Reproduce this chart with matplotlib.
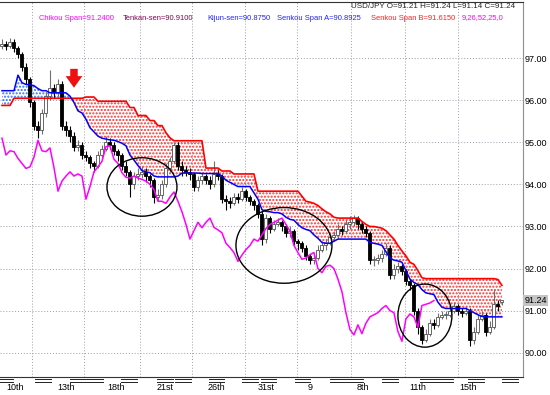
import numpy as np
import matplotlib
matplotlib.use('Agg')
import matplotlib.pyplot as plt
from matplotlib.patches import Ellipse

plt.rcParams['font.family'] = ['Liberation Sans', 'DejaVu Sans']
plt.rcParams['hatch.linewidth'] = 1.0

# USD/JPY candles (one per bar)
opens = [97.30, 97.35, 97.30, 97.40, 97.25, 97.10, 96.80, 96.50, 95.95, 95.40,
         95.30, 95.70, 96.10, 96.30, 96.20, 96.40, 95.40, 95.30, 95.15, 94.90,
         94.95, 94.70, 94.65, 94.50, 94.45, 94.70, 94.85, 95.00, 94.95, 94.80,
         94.70, 94.45, 94.30, 94.00, 94.20, 94.25, 94.30, 94.20, 94.10, 93.70,
         93.75, 94.00, 94.40, 94.55, 94.95, 94.45, 94.35, 94.30, 94.25, 93.95,
         94.10, 94.20, 94.10, 94.00, 94.25, 94.20, 93.65, 93.60, 93.55, 93.70,
         93.65, 93.85, 93.70, 93.60, 93.50, 93.30, 92.70, 93.20, 92.95, 93.05,
         93.10, 93.00, 92.85, 92.90, 92.65, 92.60, 92.50, 92.30, 92.20, 92.25,
         92.45, 92.55, 92.60, 92.75, 92.80, 92.95, 92.90, 93.05, 93.10, 93.20,
         93.05, 92.95, 92.85, 92.20, 92.20, 92.25, 92.35, 92.50, 91.85, 92.00,
         92.05, 91.95, 91.70, 91.60, 91.00, 90.60, 90.30, 90.45, 90.70, 90.65,
         90.85, 90.90, 90.90, 91.00, 91.10, 91.00, 90.95, 91.00, 90.30, 90.50,
         90.80, 90.90, 90.50, 90.60, 91.15, 91.21]
highs = [97.45, 97.42, 97.48, 97.45, 97.30, 97.15, 96.90, 96.55, 96.00, 95.50,
         95.80, 96.20, 96.72, 96.40, 96.50, 96.45, 95.50, 95.40, 95.25, 95.05,
         95.00, 94.80, 94.70, 94.55, 94.80, 94.95, 95.15, 95.10, 95.00, 94.85,
         94.75, 94.55, 94.35, 94.30, 94.40, 94.45, 94.40, 94.25, 94.15, 93.90,
         94.10, 94.50, 94.65, 95.00, 95.00, 94.55, 94.45, 94.40, 94.30, 94.20,
         94.30, 94.25, 94.20, 94.55, 94.35, 94.25, 93.75, 93.70, 93.80, 93.80,
         93.95, 93.90, 93.75, 93.65, 93.55, 93.40, 93.30, 93.25, 93.15, 93.20,
         93.15, 93.05, 93.00, 92.95, 92.70, 92.65, 92.55, 92.35, 92.35, 92.55,
         92.65, 92.70, 92.85, 92.90, 93.05, 93.00, 93.15, 93.25, 93.28, 93.25,
         93.10, 93.00, 92.90, 92.30, 92.35, 92.45, 92.60, 92.55, 92.10, 92.15,
         92.10, 92.00, 91.75, 91.65, 91.05, 90.65, 90.55, 90.80, 90.80, 90.95,
         91.00, 91.00, 91.10, 91.20, 91.15, 91.05, 91.10, 91.05, 90.60, 90.90,
         91.00, 90.95, 90.75, 91.50, 91.25, 91.24]
lows = [97.22, 97.20, 97.25, 97.15, 97.00, 96.70, 96.40, 95.85, 95.30, 95.10,
        95.20, 95.60, 96.00, 96.05, 96.10, 95.30, 95.15, 95.00, 94.80, 94.80,
        94.60, 94.55, 94.40, 94.30, 94.40, 94.60, 94.80, 94.85, 94.70, 94.55,
        94.35, 94.20, 93.70, 93.90, 94.10, 94.15, 94.05, 93.95, 93.55, 93.60,
        93.65, 93.95, 94.30, 94.50, 94.35, 94.20, 94.20, 94.10, 93.85, 93.85,
        94.00, 94.00, 93.90, 93.95, 94.10, 93.55, 93.40, 93.45, 93.50, 93.55,
        93.60, 93.60, 93.50, 93.40, 93.20, 92.55, 92.60, 92.85, 92.90, 93.00,
        92.90, 92.75, 92.75, 92.55, 92.45, 92.40, 92.20, 92.10, 92.10, 92.20,
        92.40, 92.45, 92.55, 92.65, 92.70, 92.80, 92.85, 92.95, 93.00, 92.95,
        92.85, 92.75, 92.10, 92.05, 92.10, 92.15, 92.30, 91.75, 91.75, 91.90,
        91.85, 91.60, 91.50, 90.90, 90.45, 90.20, 90.25, 90.40, 90.55, 90.60,
        90.80, 90.80, 90.85, 90.95, 90.90, 90.85, 90.90, 90.15, 90.20, 90.45,
        90.75, 90.40, 90.45, 90.55, 91.00, 91.14]
closes = [97.35, 97.30, 97.40, 97.25, 97.10, 96.80, 96.50, 95.95, 95.40, 95.30,
          95.70, 96.10, 96.30, 96.20, 96.40, 95.40, 95.30, 95.15, 94.90, 94.95,
          94.70, 94.65, 94.50, 94.45, 94.70, 94.85, 95.00, 94.95, 94.80, 94.70,
          94.45, 94.30, 94.00, 94.20, 94.25, 94.30, 94.20, 94.10, 93.70, 93.75,
          94.00, 94.40, 94.55, 94.95, 94.45, 94.35, 94.30, 94.25, 93.95, 94.10,
          94.20, 94.10, 94.00, 94.25, 94.20, 93.65, 93.60, 93.55, 93.70, 93.65,
          93.85, 93.70, 93.60, 93.50, 93.30, 92.70, 93.20, 92.95, 93.05, 93.10,
          93.00, 92.85, 92.90, 92.65, 92.60, 92.50, 92.30, 92.20, 92.25, 92.45,
          92.55, 92.60, 92.75, 92.80, 92.95, 92.90, 93.05, 93.10, 93.20, 93.05,
          92.95, 92.85, 92.20, 92.20, 92.25, 92.35, 92.50, 91.85, 92.00, 92.05,
          91.95, 91.70, 91.60, 91.00, 90.60, 90.30, 90.45, 90.70, 90.65, 90.85,
          90.90, 90.90, 91.00, 91.10, 91.00, 90.95, 91.00, 90.30, 90.50, 90.80,
          90.90, 90.50, 90.60, 91.15, 91.10, 91.24]

senkou_a = [96.23, 96.23, 96.23, 96.23, 96.60, 96.42, 96.38, 96.37, 96.35, 96.28,
            96.23, 96.23, 96.18, 96.18, 96.18, 96.18, 96.18, 96.10, 95.95, 95.75,
            95.70, 95.55, 95.35, 95.25, 95.15, 95.10, 95.08, 95.06, 95.05, 95.02,
            94.98, 94.92, 94.70, 94.58, 94.45, 94.33, 94.30, 94.28, 94.20, 94.18,
            94.18, 94.18, 94.18, 94.18, 94.20, 94.27, 94.27, 94.27, 94.27, 94.27,
            94.26, 94.26, 94.26, 94.26, 94.26, 94.20, 94.10, 94.05, 94.00, 93.95,
            93.95, 93.95, 93.95, 93.80, 93.65, 93.40, 93.36, 93.35, 93.33, 93.33,
            93.30, 93.22, 93.17, 93.15, 93.05, 92.97, 92.93, 92.90, 92.80, 92.72,
            92.62, 92.60, 92.60, 92.65, 92.70, 92.70, 92.70, 92.70, 92.70, 92.70,
            92.70, 92.70, 92.62, 92.60, 92.58, 92.55, 92.40, 92.25, 92.20, 92.18,
            92.15, 91.95, 91.75, 91.67, 91.62, 91.50, 91.42, 91.40, 91.38, 91.20,
            91.08, 91.05, 91.05, 91.05, 91.05, 91.05, 91.05, 91.00, 90.95, 90.90,
            90.86, 90.85, 90.85, 90.85, 90.85, 90.85]
senkou_b = [95.88, 95.88, 95.88, 96.05, 96.05, 96.05, 96.05, 96.05, 96.05, 96.05,
            96.05, 96.05, 96.05, 96.05, 96.05, 96.05, 96.05, 96.05, 96.05, 96.05,
            96.05, 96.08, 96.08, 96.08, 95.98, 95.98, 95.98, 95.98, 95.98, 95.98,
            95.98, 95.98, 95.83, 95.83, 95.64, 95.64, 95.64, 95.52, 95.52, 95.40,
            95.40, 95.23, 95.11, 95.04, 95.04, 95.04, 95.04, 95.04, 95.04, 95.04,
            95.04, 94.39, 94.39, 94.39, 94.39, 94.32, 94.32, 94.32, 94.25, 94.25,
            94.25, 94.25, 94.25, 94.25, 93.84, 93.84, 93.84, 93.84, 93.84, 93.84,
            93.84, 93.84, 93.84, 93.84, 93.84, 93.72, 93.60, 93.58, 93.55, 93.50,
            93.42, 93.35, 93.30, 93.22, 93.20, 93.20, 93.20, 93.20, 93.20, 93.20,
            93.12, 93.05, 93.00, 93.00, 92.98, 92.96, 92.90, 92.80, 92.70, 92.55,
            92.42, 92.30, 92.15, 92.10, 91.95, 91.78, 91.76, 91.76, 91.76, 91.76,
            91.76, 91.76, 91.76, 91.76, 91.76, 91.76, 91.76, 91.76, 91.76, 91.76,
            91.76, 91.76, 91.76, 91.76, 91.74, 91.60]
chikou = [95.10, 94.70, 94.80, 94.78, 94.62, 94.50, 94.38, 94.42, 94.65, 95.05,
          94.80, 94.78, 94.87, 94.40, 93.84, 94.08, 94.20, 94.30, 94.20, 94.25,
          94.20, 93.65, 93.95, 94.30, 94.42, 94.55, 94.90, 94.92, 94.60, 94.50,
          94.28, 94.17, 94.15, 94.20, 94.15, 94.12, 94.08, 94.00, 93.88, 93.60,
          93.60, 93.55, 93.70, 93.82, 93.60, 93.35, 93.05, 92.70, 92.90, 93.10,
          92.97, 93.10, 93.20, 92.98, 92.92, 92.85, 92.60, 92.50, 92.38, 92.17,
          92.32, 92.45, 92.55, 92.70, 92.65, 92.80, 92.95, 93.05, 93.10, 93.15,
          93.20, 93.05, 92.89, 92.55, 92.38, 92.22, 92.25, 92.33, 92.38, 92.00,
          91.90, 92.05, 92.08, 92.00, 91.75, 91.45, 90.95, 90.55, 90.42, 90.66,
          90.45, 90.70, 90.85, 90.90, 90.95, 91.05, 91.12, 91.00, 90.95, 90.50,
          90.27, 90.80, 90.92, 90.85, 90.60, 91.12, 91.15, 91.18, 91.24]

date_labels = ['10th', '13th', '18th', '21st', '26th', '31st', '9', '8th', '11th', '15th']
date_pos = [3.25, 16, 28.5, 40.75, 53.5, 66, 77, 90.25, 104, 116.5]
vgrid_pos = [7.4, 20.5, 34.5, 47.5, 60.75, 73.75, 87.25, 100.75, 114]
mark_pos = [0.75, 10.25, 19, 23.25, 31.75, 40.75, 45.25, 53.6, 62, 66.6,
            75.1, 84, 88.25, 97, 106.5, 110.75, 118.5, 127]
price_ticks = [90, 91, 92, 93, 94, 95, 96, 97]

fig = plt.figure(figsize=(5.5, 3.95), dpi=100)
ax = fig.add_axes([0, 18 / 395, 522.7 / 550, 375 / 395])
ax.set_xlim(-0.5, 130.2)
ax.set_ylim(89.42, 98.34)

grid_style = dict(color='#9c9cb0', linestyle=(0, (1, 2)), linewidth=0.7, zorder=0)
for p in price_ticks:
    ax.axhline(p, **grid_style)
for p in vgrid_pos:
    ax.axvline(p, **grid_style)

# cloud
xc = np.arange(len(senkou_a))
sa = np.array(senkou_a)
sb = np.array(senkou_b)
ax.fill_between(xc, sa, sb, where=sb >= sa, interpolate=True, facecolor='none',
                edgecolor='#ff3030', hatch='.....', linewidth=0, zorder=1)
ax.fill_between(xc, sa, sb, where=sa > sb, interpolate=True, facecolor='none',
                edgecolor='#3070ff', hatch='.....', linewidth=0, zorder=1)

# candles
o = np.array(opens)
c = np.array(closes)
x = np.arange(len(closes))
up = c >= o
ax.vlines(x[up], np.array(lows)[up], np.array(highs)[up], color='#707070', lw=0.8, zorder=3)
ax.vlines(x[~up], np.array(lows)[~up], np.array(highs)[~up], color='black', lw=0.8, zorder=3)
body = np.maximum(np.abs(c - o), 0.02)
ax.bar(x[up], body[up], bottom=o[up], width=0.75, facecolor='white',
       edgecolor='#505050', linewidth=0.6, zorder=4)
ax.bar(x[~up], body[~up], bottom=c[~up], width=0.75, facecolor='black',
       edgecolor='black', linewidth=0.6, zorder=4)

ax.plot(xc, sb, color='#ff0000', lw=1.2, zorder=5)
ax.plot(xc, sa, color='#0000ff', lw=1.1, zorder=5)
ax.plot(np.arange(len(chikou)), chikou, color='#ff00ff', lw=1.1, zorder=5)

# highlighted areas
for cx, cy, w, h in [(35, 93.94, 17.5, 1.39), (70.5, 92.55, 24, 1.8), (105.75, 90.88, 13.5, 1.5)]:
    ax.add_patch(Ellipse((cx, cy), w, h, facecolor='none', edgecolor='black', lw=1.0, zorder=6))

ax.annotate('', xy=(18, 96.30), xytext=(18, 96.75),
            arrowprops=dict(arrowstyle='simple,head_length=0.7,head_width=1.0,tail_width=0.45',
                            color='#ee1010', lw=0, mutation_scale=12, shrinkA=0, shrinkB=0),
            zorder=7)

# axes frame
ax.spines['left'].set_visible(False)
ax.spines['top'].set_color('#333333')
ax.spines['bottom'].set_color('#333333')
ax.spines['right'].set_color('#909090')

ax.yaxis.tick_right()
ax.set_yticks(price_ticks, ['%.2f' % p for p in price_ticks])
ax.tick_params(axis='y', length=0, pad=1.5, labelsize=6.5)
ax.set_xticks(date_pos, date_labels)
ax.tick_params(axis='x', length=0, pad=4, labelsize=6.5)

# last price box
ax.text(1.003, 91.24, '91.24', transform=ax.get_yaxis_transform(), fontsize=6.5,
        va='center', ha='left', bbox=dict(boxstyle='square,pad=0.1', fc='#c4c4c4', ec='none'))

# double marks under the axis
tr = ax.get_xaxis_transform()
for m in mark_pos:
    for yy in (-0.006, -0.012):
        ax.plot([m - 1.9, m + 1.9], [yy, yy], color='#222222', lw=0.7, transform=tr, clip_on=False)

# header text
fs = 5.4
fig.text(351 / 550, 1 - 6 / 395, 'USD/JPY O=91.21 H=91.24 L=91.14 C=91.24', fontsize=5.8,
         va='center', ha='left', color='#222222')
row = 1 - 18 / 395
for xs, txt, col in [(39, 'Chikou Span=91.2400', '#ff00ff'),
                     (123, 'Tenkan-sen=90.9100', '#800050'),
                     (207, 'Kijun-sen=90.8750', '#2020ff'),
                     (277, 'Senkou Span A=90.8925', '#2020ff'),
                     (371, 'Senkou Span B=91.6150', '#ff2020'),
                     (462, '9,26,52,25,0', '#ff00ff')]:
    fig.text(xs / 550, row, txt, fontsize=fs, va='center', ha='left', color=col)

fig.savefig('out.png', dpi=100)
